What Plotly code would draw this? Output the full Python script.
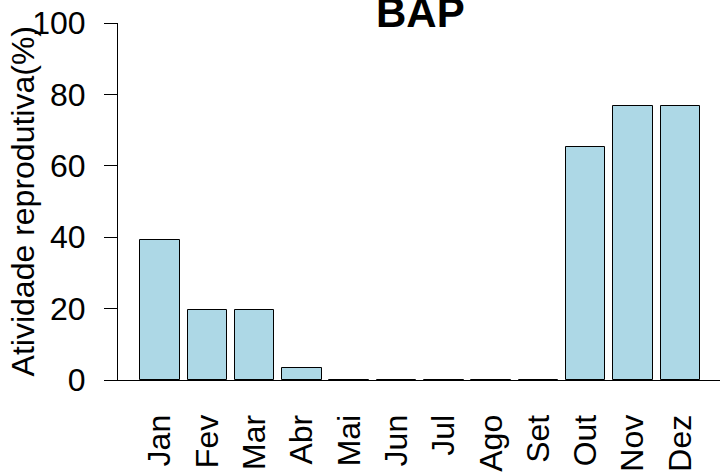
import plotly.graph_objects as go

months = ["Jan", "Fev", "Mar", "Abr", "Mai", "Jun", "Jul", "Ago", "Set", "Out", "Nov", "Dez"]
activity = [39.1, 19.6, 19.6, 3.3, 0, 0, 0, 0, 0, 65.2, 76.7, 76.7]
y_ticks = [0, 20, 40, 60, 80, 100]

FONT = "Liberation Sans, Arial, sans-serif"
FS = 32

fig = go.Figure()
fig.add_trace(go.Bar(
    x=months, y=activity,
    width=0.835,
    marker=dict(color="#ADD8E6", line=dict(color="black", width=1)),
))

fig.add_annotation(text="<b>BAP</b>", xref="paper", yref="paper", x=0.503, y=1,
                   xanchor="center", yanchor="middle", yshift=11, showarrow=False,
                   font=dict(size=42, family=FONT, color="black"))
fig.add_annotation(text="Atividade reprodutiva(%)", xref="paper", yref="paper",
                   x=-0.158, y=0.5, xanchor="center", yanchor="middle", textangle=-90,
                   showarrow=False, font=dict(size=FS, family=FONT, color="black"))

fig.update_layout(
    width=720, height=472,
    margin=dict(l=118, r=0, t=23, b=92),
    plot_bgcolor="white", paper_bgcolor="white",
    showlegend=False,
    font=dict(family=FONT, size=FS, color="black"),
    bargap=0,
)
fig.update_xaxes(
    range=[-0.888, 11.839], tickangle=-90, showline=True, linecolor="black", linewidth=1,
    ticks="", showgrid=False,
    tickfont=dict(size=FS), zeroline=False, automargin=False, ticklabelstandoff=21,
)
fig.update_yaxes(
    range=[0, 100], tickvals=y_ticks, showline=True, linecolor="black", linewidth=1,
    ticks="outside", ticklen=13, tickcolor="black", showgrid=False, zeroline=False,
    tickfont=dict(size=FS), automargin=False, ticklabelstandoff=12,
)
fig.write_html("out.html", config={"displayModeBar": False},
               post_script="document.body.style.margin='0px';")
